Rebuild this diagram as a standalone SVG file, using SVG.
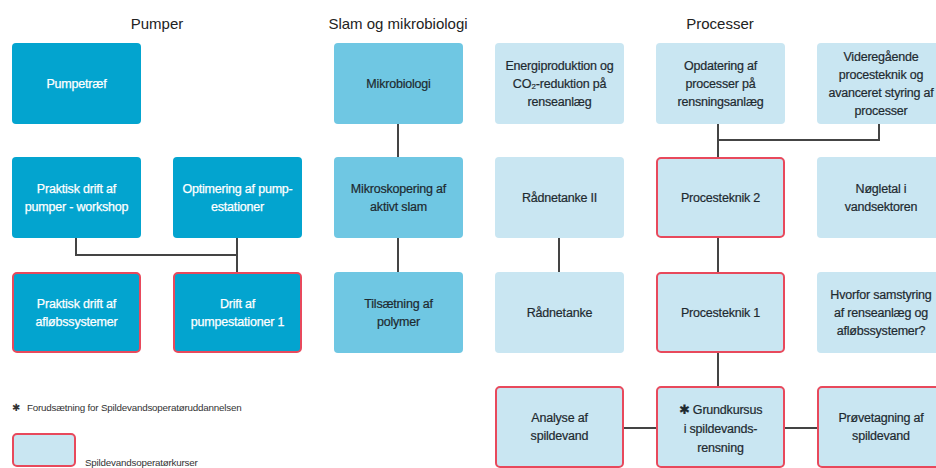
<svg xmlns="http://www.w3.org/2000/svg" width="936" height="468" viewBox="0 0 936 468">
<style>
text{font-family:"Liberation Sans",Arial,sans-serif;text-anchor:middle}
.t{font-size:15px;fill:#222}
.b rect{rx:4;ry:4}
.dark rect{fill:#03a4cf}
.dark text{fill:#fff;stroke:#fff;stroke-width:0.25px;font-size:12.5px;letter-spacing:-0.2px}
.mid rect{fill:#6fc7e3}
.mid text{fill:#1e2a30;stroke:#1e2a30;stroke-width:0.2px;font-size:12.5px;letter-spacing:-0.2px}
.lite rect{fill:#c9e6f2}
.lite text{fill:#1e2a30;stroke:#1e2a30;stroke-width:0.2px;font-size:12.5px;letter-spacing:-0.2px}
.red rect{stroke:#e8495c;stroke-width:2}
.c{fill:none;stroke:#444;stroke-width:2}
.lg{font-size:9.8px;fill:#333;text-anchor:start;letter-spacing:-0.2px}
</style>
<rect width="936" height="468" fill="#fff"/>
<text class="t" x="157" y="29">Pumper</text>
<text class="t" x="398" y="29">Slam og mikrobiologi</text>
<text class="t" x="720" y="29">Processer</text>

<g id="connectors">
<path class="c" d="M76 238V255H237M237 238V272"/>
<path class="c" d="M398 124V157M398 238V272"/>
<path class="c" d="M879 124V140H718M718 124V157M718 238V272M718 353V386"/>
<path class="c" d="M559 238V272"/>
<path class="c" d="M624 428H656M785 428H817"/>
</g>

<g id="pumpetraef" class="b dark"><rect x="12" y="43" width="129" height="81"/><text x="76.5" y="88">Pumpetræf</text></g>
<g id="praktisk-pumper" class="b dark"><rect x="12" y="157" width="129" height="81"/><text x="76.5" y="193">Praktisk drift af</text><text x="76.5" y="211">pumper - workshop</text></g>
<g id="optimering" class="b dark"><rect x="173" y="157" width="129" height="81"/><text x="237.5" y="193">Optimering af pump-</text><text x="237.5" y="211">estationer</text></g>
<g id="praktisk-afloeb" class="b dark red"><rect x="13" y="273" width="127" height="79"/><text x="76.5" y="308">Praktisk drift af</text><text x="76.5" y="326">afløbssystemer</text></g>
<g id="drift-pumpe" class="b dark red"><rect x="174" y="273" width="127" height="79"/><text x="237.5" y="308">Drift af</text><text x="237.5" y="326">pumpestationer 1</text></g>

<g id="mikrobiologi" class="b mid"><rect x="334" y="43" width="129" height="81"/><text x="398.5" y="88">Mikrobiologi</text></g>
<g id="mikroskopering" class="b mid"><rect x="334" y="157" width="129" height="81"/><text x="398.5" y="193">Mikroskopering af</text><text x="398.5" y="211">aktivt slam</text></g>
<g id="tilsaetning" class="b mid"><rect x="334" y="272" width="129" height="81"/><text x="398.5" y="308">Tilsætning af</text><text x="398.5" y="326">polymer</text></g>

<g id="energi" class="b lite"><rect x="495" y="43" width="129" height="81"/><text x="559.5" y="70">Energiproduktion og</text><text x="559.5" y="88">CO₂-reduktion på</text><text x="559.5" y="106">renseanlæg</text></g>
<g id="opdatering" class="b lite"><rect x="656" y="43" width="129" height="81"/><text x="720.5" y="70">Opdatering af</text><text x="720.5" y="88">processer på</text><text x="720.5" y="106">rensningsanlæg</text></g>
<g id="videregaaende" class="b lite"><rect x="817" y="43" width="129" height="81"/><text x="881" y="61">Videregående</text><text x="881" y="79">procesteknik og</text><text x="881" y="97">avanceret styring af</text><text x="881" y="115">processer</text></g>

<g id="raadnetanke2" class="b lite"><rect x="495" y="157" width="129" height="81"/><text x="559.5" y="202">Rådnetanke II</text></g>
<g id="procesteknik2" class="b lite red"><rect x="657" y="158" width="127" height="79"/><text x="720.5" y="202">Procesteknik 2</text></g>
<g id="noegletal" class="b lite"><rect x="817" y="157" width="129" height="81"/><text x="881" y="193">Nøgletal i</text><text x="881" y="211">vandsektoren</text></g>

<g id="raadnetanke" class="b lite"><rect x="495" y="272" width="129" height="81"/><text x="559.5" y="317">Rådnetanke</text></g>
<g id="procesteknik1" class="b lite red"><rect x="657" y="273" width="127" height="79"/><text x="720.5" y="317">Procesteknik 1</text></g>
<g id="hvorfor" class="b lite"><rect x="817" y="272" width="129" height="81"/><text x="881" y="299">Hvorfor samstyring</text><text x="881" y="317">af renseanlæg og</text><text x="881" y="335">afløbssystemer?</text></g>

<g id="analyse" class="b lite red"><rect x="496" y="387" width="127" height="80"/><text x="559.5" y="422">Analyse af</text><text x="559.5" y="440">spildevand</text></g>
<g id="grundkursus" class="b lite red"><rect x="657" y="387" width="127" height="80"/><text x="720.5" y="414">✱ Grundkursus</text><text x="720.5" y="433">i spildevands-</text><text x="720.5" y="452">rensning</text></g>
<g id="proevetagning" class="b lite red"><rect x="818" y="387" width="127" height="80"/><text x="881" y="422">Prøvetagning af</text><text x="881" y="440">spildevand</text></g>

<g id="legend">
<text class="lg" x="12" y="411">✱</text>
<text class="lg" x="27" y="411">Forudsætning for Spildevandsoperatøruddannelsen</text>
<g class="b lite red"><rect x="13" y="434" width="62" height="32"/></g>
<text class="lg" x="85" y="466">Spildevandsoperatørkurser</text>
</g>
</svg>
